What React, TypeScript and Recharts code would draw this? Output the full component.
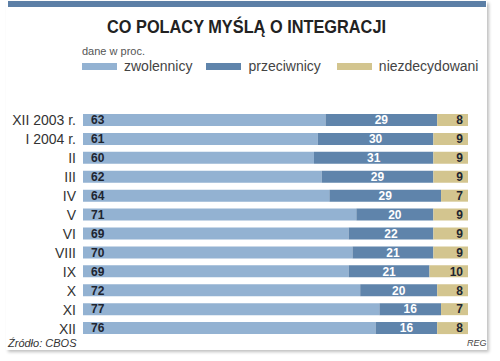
import { Bar, BarChart, LabelList, Legend, XAxis, YAxis } from "recharts"

const months = ["XII 2003 r.", "I 2004 r.", "II", "III", "IV", "V", "VI", "VIII", "IX", "X", "XI", "XII"]
const zwolennicy = [63, 61, 60, 62, 64, 71, 69, 70, 69, 72, 77, 76]
const przeciwnicy = [29, 30, 31, 29, 29, 20, 22, 21, 21, 20, 16, 16]
const niezdecydowani = [8, 9, 9, 9, 7, 9, 9, 9, 10, 8, 7, 8]

const series = [
  { key: "zwolennicy", color: "#93b2d2" },
  { key: "przeciwnicy", color: "#5f84ab" },
  { key: "niezdecydowani", color: "#d3c58f" },
]

const data = months.map((name, i) => ({
  name,
  zwolennicy: zwolennicy[i],
  przeciwnicy: przeciwnicy[i],
  niezdecydowani: niezdecydowani[i],
}))

const font = "'Liberation Sans', Arial, sans-serif"
const labelStyle = { fontFamily: font, fontSize: 12, fontWeight: 700 }

function LegendRow() {
  return (
    <div style={{ fontFamily: font, color: "#444" }}>
      <div style={{ fontSize: 11, color: "#555", lineHeight: "12px", marginBottom: 1 }}>dane w proc.</div>
      <div style={{ display: "flex", alignItems: "center", fontSize: 14, lineHeight: "16px" }}>
        {series.map((s, i) => (
          <div key={s.key} style={{ display: "flex", alignItems: "center", marginRight: i === 0 ? 14 : 16 }}>
            <span style={{ display: "inline-block", width: 35, height: 7, background: s.color, marginRight: 7 }} />
            <span>{s.key}</span>
          </div>
        ))}
      </div>
    </div>
  )
}

export default function App() {
  return (
    <div style={{ position: "absolute", left: 0, top: 0, width: 500, height: 361, background: "#fff" }}>
      <div
        style={{
          position: "absolute",
          left: 6,
          top: 1,
          width: 481,
          height: 349,
          background: "#fff",
          boxShadow: "2px 2px 3px rgba(0,0,0,0.25)",
        }}
      />
      <div style={{ position: "absolute", left: 8, top: 1, width: 478, height: 6, background: "#5c7fa6" }} />
      <svg style={{ position: "absolute", left: 0, top: 0 }} width={500} height={40}>
        <text
          x={107}
          y={33}
          textLength={279}
          lengthAdjust="spacingAndGlyphs"
          fontFamily={font}
          fontWeight={700}
          fontSize={18.5}
          fill="#222"
        >
          CO POLACY MYŚLĄ O INTEGRACJI
        </text>
      </svg>
      <div style={{ position: "absolute", left: 0, top: 0 }}>
        <BarChart
          width={500}
          height={361}
          data={data}
          layout="vertical"
          margin={{ top: 82, right: 32, left: 0, bottom: 23 }}
          barSize={12}
        >
          <XAxis type="number" domain={[0, 100]} hide />
          <YAxis
            type="category"
            dataKey="name"
            width={83}
            interval={0}
            axisLine={false}
            tickLine={false}
            tickMargin={1}
            tick={{ fill: "#333", fontSize: 14, fontFamily: font }}
          />
          <Legend
            verticalAlign="top"
            content={() => <LegendRow />}
            wrapperStyle={{ position: "absolute", top: 45, left: 82, width: 420 }}
          />
          <Bar dataKey="zwolennicy" stackId="a" fill={series[0].color} isAnimationActive={false}>
            <LabelList dataKey="zwolennicy" position="insideLeft" offset={8} fill="#1e2530" style={labelStyle} />
          </Bar>
          <Bar dataKey="przeciwnicy" stackId="a" fill={series[1].color} isAnimationActive={false}>
            <LabelList dataKey="przeciwnicy" position="center" fill="#fff" style={labelStyle} />
          </Bar>
          <Bar dataKey="niezdecydowani" stackId="a" fill={series[2].color} isAnimationActive={false}>
            <LabelList dataKey="niezdecydowani" position="insideRight" offset={5} fill="#1e2530" style={labelStyle} />
          </Bar>
        </BarChart>
      </div>
      <div
        style={{
          position: "absolute",
          left: 8,
          top: 337,
          fontFamily: font,
          fontStyle: "italic",
          fontSize: 11,
          color: "#333",
        }}
      >
        Źródło: CBOS
      </div>
      <div
        style={{
          position: "absolute",
          left: 467,
          top: 338,
          fontFamily: font,
          fontStyle: "italic",
          fontSize: 9,
          color: "#444",
        }}
      >
        REG
      </div>
    </div>
  )
}
